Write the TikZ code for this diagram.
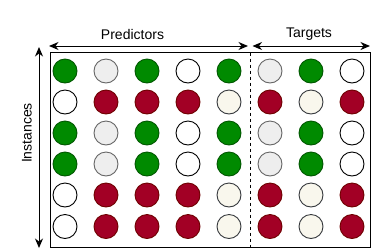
\documentclass[tikz,border=0pt]{standalone}
\usepackage{fontspec}
\setmainfont{Liberation Sans}
\usetikzlibrary{arrows.meta,positioning}

\definecolor{grnfill}{HTML}{008A00}
\definecolor{grnline}{HTML}{005700}
\definecolor{redfill}{HTML}{A20025}
\definecolor{redline}{HTML}{6F0000}
\definecolor{gryfill}{HTML}{EEEEEE}
\definecolor{gryline}{HTML}{666666}
\definecolor{crmfill}{HTML}{F9F7ED}
\definecolor{crmline}{HTML}{36393D}

\begin{document}
\begin{tikzpicture}[x=1pt, y=-1pt, line width=1pt,
    >={Stealth[length=9.5pt, width=8pt, inset=3pt]},
    dot/.style={circle, inner sep=0pt, minimum size=24pt, line width=0.9pt},
    gcirc/.style={dot, draw=grnline, fill=grnfill},
    rcirc/.style={dot, draw=redline, fill=redfill},
    lcirc/.style={dot, draw=gryline, fill=gryfill},
    ccirc/.style={dot, draw=crmline, fill=crmfill},
    wcirc/.style={dot, draw=black, fill=white},
    lbl/.style={font=\fontsize{14pt}{16pt}\selectfont, inner sep=0pt}]

\useasboundingbox (0,0) rectangle (372,250);

% === Frame and split ===
\node[draw, inner sep=0pt, minimum width=320pt, minimum height=195pt] (frame) at (210,150) {};
\coordinate (splittop) at (250.5,52.5);
\coordinate (splitbot) at (250.5,247.5);
\draw[dashed, line width=0.8pt] (splittop) -- (splitbot);

% === Row 1 ===
\node[gcirc] (r1c1) at (65,71) {};
\node[lcirc] (r1c2) at (106,71) {};
\node[gcirc] (r1c3) at (147,71) {};
\node[wcirc] (r1c4) at (188,71) {};
\node[gcirc] (r1c5) at (229,71) {};
\node[lcirc] (r1c6) at (270,71) {};
\node[gcirc] (r1c7) at (311,71) {};
\node[wcirc] (r1c8) at (352,71) {};

% === Row 2 ===
\node[wcirc] (r2c1) at (65,102) {};
\node[rcirc] (r2c2) at (106,102) {};
\node[rcirc] (r2c3) at (147,102) {};
\node[rcirc] (r2c4) at (188,102) {};
\node[ccirc] (r2c5) at (229,102) {};
\node[rcirc] (r2c6) at (270,102) {};
\node[ccirc] (r2c7) at (311,102) {};
\node[rcirc] (r2c8) at (352,102) {};

% === Row 3 ===
\node[gcirc] (r3c1) at (65,133) {};
\node[lcirc] (r3c2) at (106,133) {};
\node[gcirc] (r3c3) at (147,133) {};
\node[wcirc] (r3c4) at (188,133) {};
\node[gcirc] (r3c5) at (229,133) {};
\node[lcirc] (r3c6) at (270,133) {};
\node[gcirc] (r3c7) at (311,133) {};
\node[wcirc] (r3c8) at (352,133) {};

% === Row 4 ===
\node[gcirc] (r4c1) at (65,164) {};
\node[lcirc] (r4c2) at (106,164) {};
\node[gcirc] (r4c3) at (147,164) {};
\node[wcirc] (r4c4) at (188,164) {};
\node[gcirc] (r4c5) at (229,164) {};
\node[lcirc] (r4c6) at (270,164) {};
\node[gcirc] (r4c7) at (311,164) {};
\node[wcirc] (r4c8) at (352,164) {};

% === Row 5 ===
\node[wcirc] (r5c1) at (65,195) {};
\node[rcirc] (r5c2) at (106,195) {};
\node[rcirc] (r5c3) at (147,195) {};
\node[rcirc] (r5c4) at (188,195) {};
\node[ccirc] (r5c5) at (229,195) {};
\node[rcirc] (r5c6) at (270,195) {};
\node[ccirc] (r5c7) at (311,195) {};
\node[rcirc] (r5c8) at (352,195) {};

% === Row 6 ===
\node[wcirc] (r6c1) at (65,226.5) {};
\node[rcirc] (r6c2) at (106,226.5) {};
\node[rcirc] (r6c3) at (147,226.5) {};
\node[rcirc] (r6c4) at (188,226.5) {};
\node[ccirc] (r6c5) at (229,226.5) {};
\node[rcirc] (r6c6) at (270,226.5) {};
\node[ccirc] (r6c7) at (311,226.5) {};
\node[rcirc] (r6c8) at (352,226.5) {};

% === Span arrows ===
\coordinate (predL) at (49,46);
\coordinate (predR) at (248,46);
\coordinate (targL) at (252.5,46);
\coordinate (targR) at (370,46);
\coordinate (instT) at (39,47);
\coordinate (instB) at (39,248);
\draw[<->] (predL) -- (predR);
\draw[<->] (targL) -- (targR);
\draw[<->] (instT) -- (instB);

% === Labels ===
\node[lbl] (predlbl) at (132.5,34) {Predictors};
\node[lbl] (targlbl) at (309,34) {Targets};
\node[lbl, rotate=90] (instlbl) at (27,133) {Instances};

\end{tikzpicture}
\end{document}
